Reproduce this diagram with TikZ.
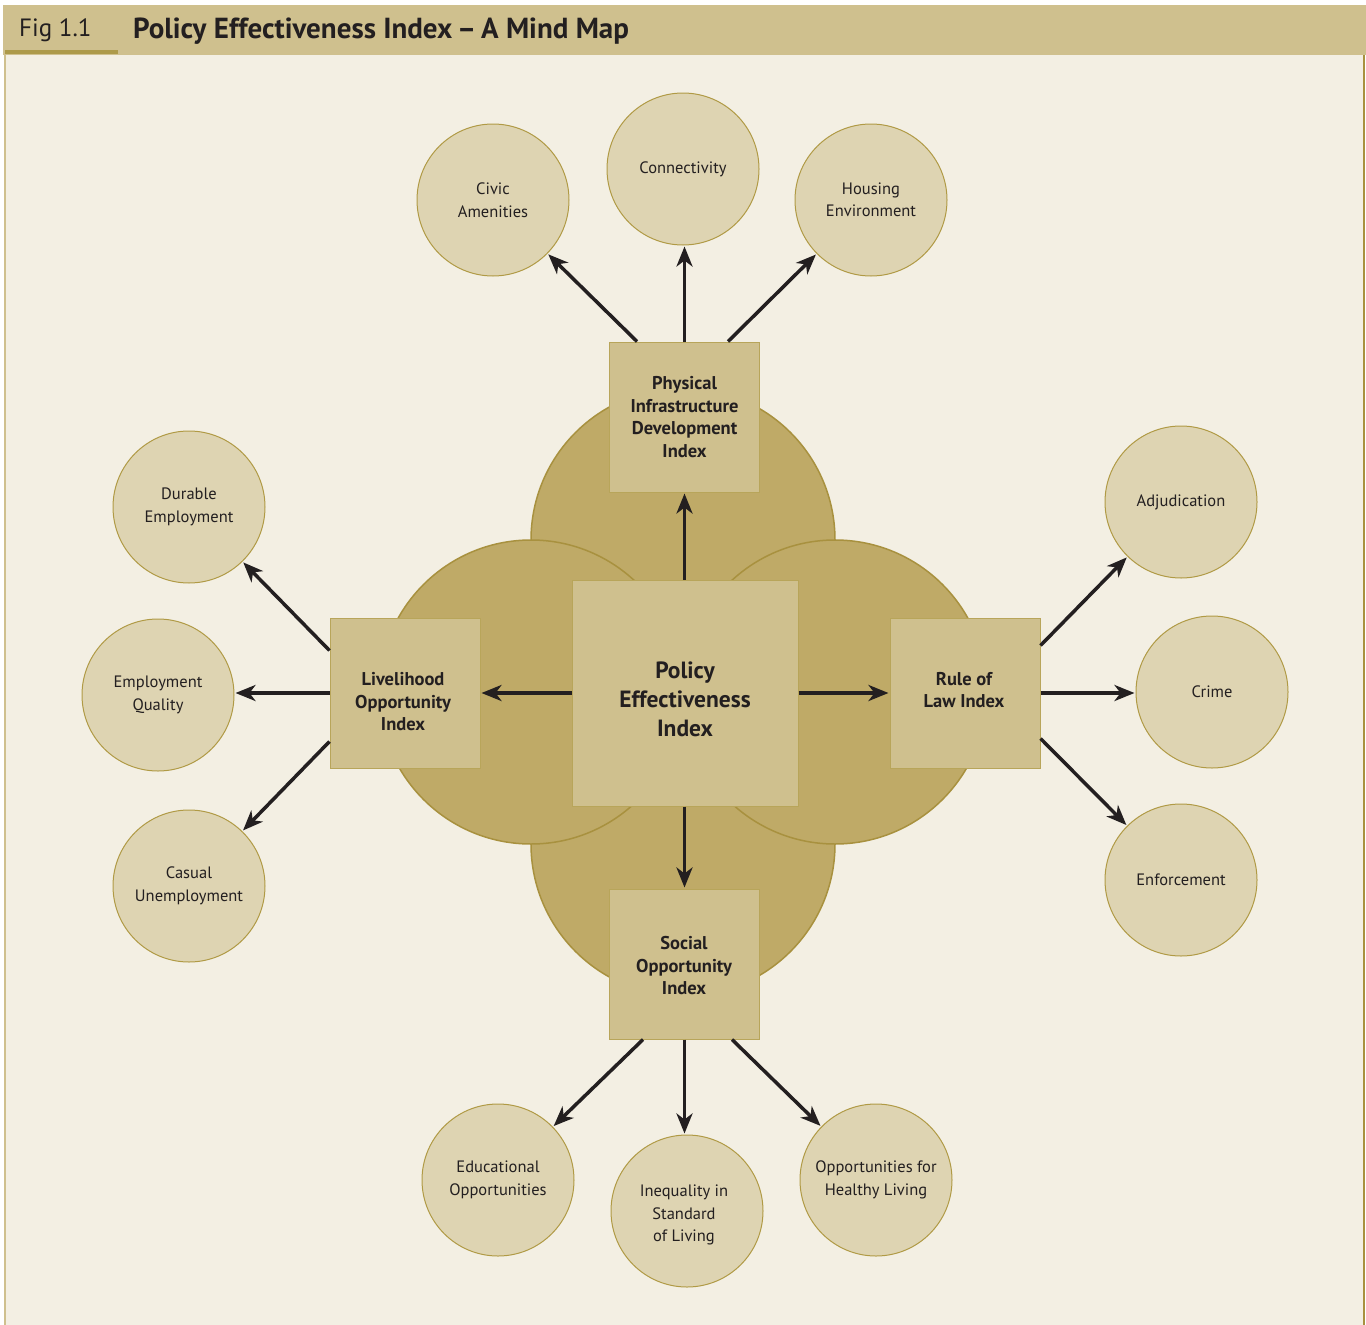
\documentclass[tikz,border=0pt]{standalone}
\usepackage{fontspec}
\setmainfont{PT Sans}
\usetikzlibrary{arrows.meta,calc}
\definecolor{hdr}{HTML}{CFC08E}
\definecolor{hdrline}{HTML}{AD9A4A}
\definecolor{bodybg}{HTML}{F3EFE3}
\definecolor{bigfill}{HTML}{BFAA67}
\definecolor{bigline}{HTML}{A8913F}
\definecolor{boxfill}{HTML}{CFC08E}
\definecolor{boxline}{HTML}{B8A55A}
\definecolor{circfill}{HTML}{DED4B2}
\definecolor{circline}{HTML}{B09A45}
\definecolor{ink}{HTML}{231F20}
\begin{document}
\begin{tikzpicture}[x=1pt,y=-1pt,
  big/.style={circle,fill=bigfill,draw=bigline,line width=1.5pt,minimum size=304pt,inner sep=0pt},
  idx/.style={rectangle,fill=boxfill,draw=boxline,line width=1pt,minimum size=150pt,inner sep=0pt,align=center,text=ink,font=\fontsize{18.5}{22.5}\selectfont\bfseries},
  idxtext/.style={inner sep=0pt,align=center,text=ink,font=\fontsize{18.5}{22.5}\selectfont\bfseries},
  core/.style={idx,minimum size=226pt},
  coretext/.style={inner sep=0pt,align=center,text=ink,font=\fontsize{23.5}{29}\selectfont\bfseries},
  leaf/.style={circle,fill=circfill,draw=circline,line width=1pt,minimum size=152pt,inner sep=0pt,align=center,text=ink,font=\fontsize{16.5}{22.5}\selectfont},
  leaftext/.style={inner sep=0pt,align=center,text=ink,font=\fontsize{16.5}{22.5}\selectfont},
  arr/.style={draw=ink,line width=3.5pt,-{Stealth[length=20pt,width=16pt,inset=6pt]},shorten >=1pt}
]
\useasboundingbox (0,0) rectangle (1366,1325);
\fill[white] (0,0) rectangle (1366,1325);
\fill[bodybg] (5,55) rectangle (1364,1325);
\draw[hdr,line width=2pt] (5,55) -- (5,1325);
\draw[bigline,line width=1.5pt] (1364,55) -- (1364,1325);
\fill[hdr] (3,5) rectangle (1366,55);
\fill[hdrline] (5,50) rectangle (118,54);
\node[anchor=west,text=ink,font=\fontsize{25}{28}\selectfont,inner sep=0pt] (fig) at (19,30) {Fig 1.1};
\node[anchor=west,text=ink,font=\fontsize{29}{30}\selectfont\bfseries,inner sep=0pt] (title) at (133,31) {Policy Effectiveness Index\,–\,A Mind Map};

% clover background circles
\node[big] (bt) at (683,540) {};
\node[big] (bb) at (683,844) {};
\node[big] (bl) at (531,692) {};
\node[big] (br) at (835,692) {};

% index boxes
\node[core] (pei) at (685,693) {};
\node[coretext] (peit) at (685,699) {Policy\\Effectiveness\\Index};
\node[idx] (pid) at (684.5,417) {Physical\\Infrastructure\\Development\\Index};
\node[idx] (loi) at (405,693) {};
\node[idxtext] (loit) at (403,702) {Livelihood\\Opportunity\\Index};
\node[idx] (rol) at (965,693) {};
\node[idxtext] (rolt) at (964,690) {Rule of\\Law Index};
\node[idx] (soi) at (684.5,964) {};
\node[idxtext] (soit) at (684,966) {Social\\Opportunity\\Index};

% leaves
\node[leaf] (civic) at (493,200) {Civic\\Amenities};
\node[leaf] (conn) at (683,169) {Connectivity};
\node[leaf] (hous) at (871,200) {Housing\\Environment};
\node[leaf] (dura) at (189,507) {Durable\\Employment};
\node[leaf] (empq) at (158,695) {Employment\\Quality};
\node[leaf] (casu) at (189,886) {Casual\\Unemployment};
\node[leaf] (adju) at (1181,502) {Adjudication};
\node[leaf] (crime) at (1212,692) {Crime};
\node[leaf] (enfo) at (1181,880) {Enforcement};
\node[leaf] (educ) at (498,1180) {Educational\\Opportunities};
\node[leaf] (ineq) at (687,1211) {};
\node[leaftext] (ineqt) at (684,1215) {Inequality in\\Standard\\of Living};
\node[leaf] (heal) at (876,1180) {Opportunities for\\Healthy Living};

% core arrows
\draw[arr] (pei.north -| pid) -- (pid.south);
\draw[arr] (pei.west |- loi) -- (loi.east);
\draw[arr] (pei.east |- rol) -- (rol.west);
\draw[arr] (pei.south -| soi) -- (soi.north);

% top
\draw[arr] ([xshift=28pt]pid.north west) -- (civic);
\draw[arr] (pid.north) -- (pid.north |- conn.south);
\draw[arr] ([xshift=-32pt]pid.north east) -- (hous);
% left
\draw[arr] ([yshift=-33pt]loi.north west) -- (dura);
\draw[arr] (loi.west) -- (loi.west -| empq.east);
\draw[arr] ([yshift=27pt]loi.south west) -- (casu);
% right
\draw[arr] ([yshift=-28pt]rol.north east) -- (adju);
\draw[arr] (rol.east) -- (rol.east -| crime.west);
\draw[arr] ([yshift=30pt]rol.south east) -- (enfo);
% bottom
\draw[arr] ([xshift=34pt]soi.south west) -- (educ);
\draw[arr] (soi.south) -- (soi.south |- ineq.north);
\draw[arr] ([xshift=-28pt]soi.south east) -- (heal);
\end{tikzpicture}
\end{document}
